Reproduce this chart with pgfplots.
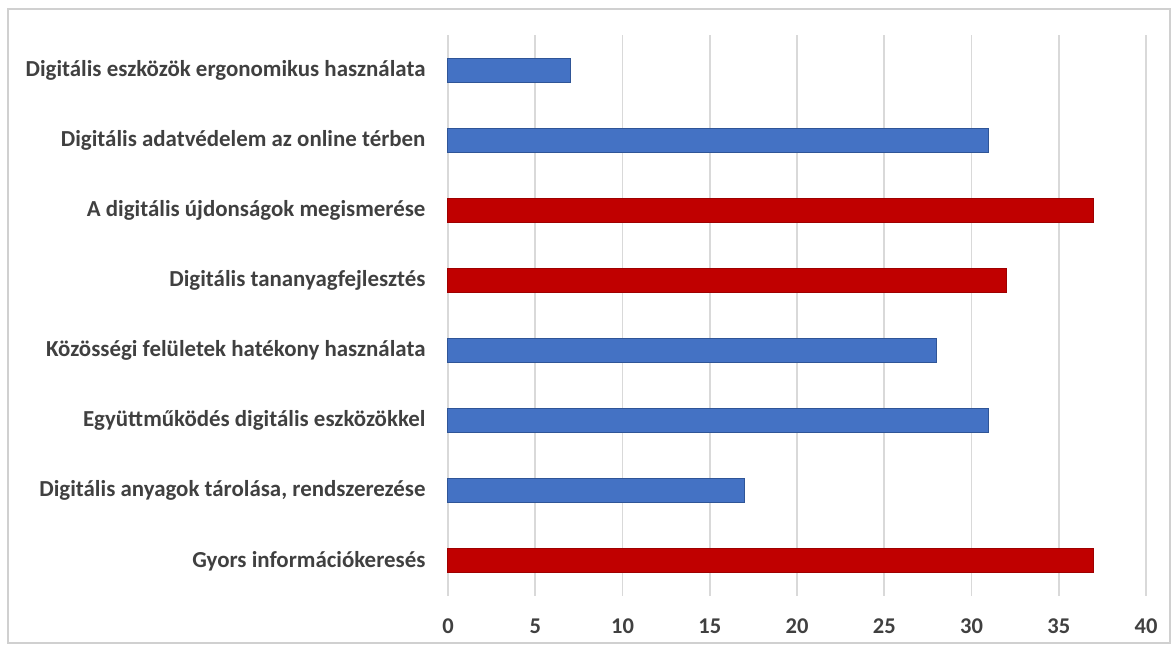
\documentclass[border=0pt]{standalone}
\usepackage{fontspec}
\setmainfont{Carlito}
\usepackage{pgfplots}
\pgfplotsset{compat=1.18}
\definecolor{barblue}{HTML}{4472C4}
\definecolor{barblueedge}{HTML}{2F5597}
\definecolor{barred}{HTML}{C00000}
\definecolor{barrededge}{HTML}{9E0000}
\definecolor{gridgray}{HTML}{D9D9D9}
\definecolor{txt}{HTML}{404040}
\definecolor{frame}{HTML}{D0D0D0}
\begin{document}
\begin{tikzpicture}
\path[use as bounding box] (0pt,0pt) rectangle (1173pt,646pt);
\draw[frame, line width=1.5pt] (8pt,3pt) rectangle (1170pt,637pt);
\begin{axis}[
  at={(448pt,50pt)}, anchor=south west,
  scale only axis, width=698pt, height=561pt,
  xbar, bar width=24pt,
  xmin=0, xmax=40, xtick={0,5,...,40},
  ymin=-0.5, ymax=7.5, y dir=reverse,
  ytick={0,...,7},
  yticklabels={Digitális eszközök ergonomikus használata,
    Digitális adatvédelem az online térben,
    A digitális újdonságok megismerése,
    Digitális tananyagfejlesztés,
    Közösségi felületek hatékony használata,
    Együttműködés digitális eszközökkel,
    {Digitális anyagok tárolása, rendszerezése},
    Gyors információkeresés},
  axis line style={draw=none},
  major tick length=0pt,
  xmajorgrids, grid style={gridgray, line width=1.6pt},
  tick label style={font=\fontsize{22.5}{26}\selectfont\bfseries, text=txt},
  /pgf/number format/assume math mode=true,
  yticklabel style={xshift=-19pt, font=\fontsize{22.9}{26}\selectfont\bfseries},
  xticklabel style={yshift=-19pt},
  clip=false,
]
\addplot[bar shift=0pt, fill=barblue, draw=barblueedge, line width=1pt]
  coordinates {(7,0) (31,1) (28,4) (31,5) (17,6)};
\addplot[bar shift=0pt, fill=barred, draw=barrededge, line width=1pt]
  coordinates {(37,2) (32,3) (37,7)};
\end{axis}
\end{tikzpicture}
\end{document}
